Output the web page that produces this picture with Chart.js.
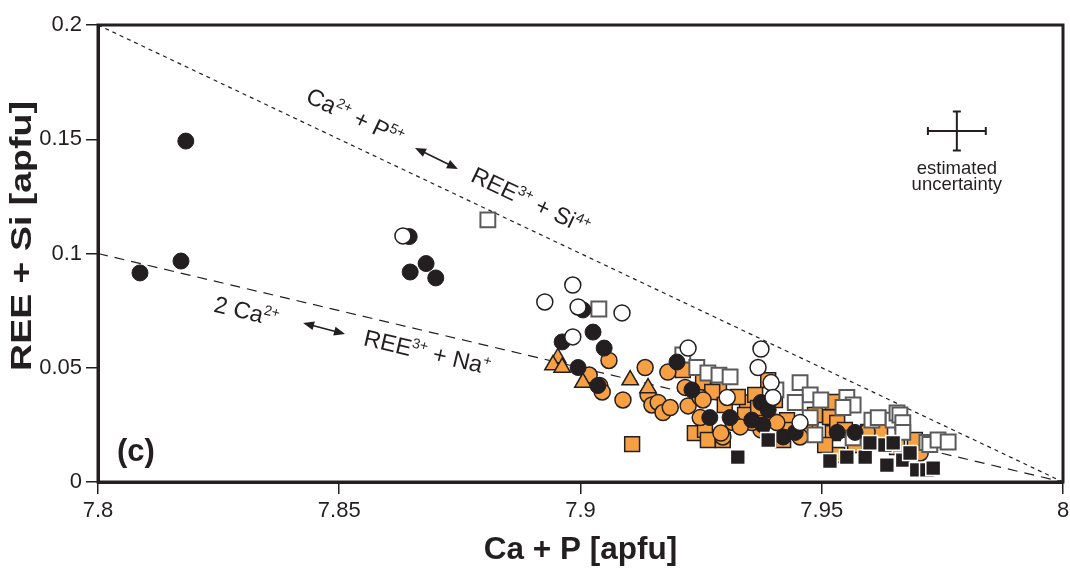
<!DOCTYPE html>
<html lang="en">
<head>
    <meta charset="utf-8" />
    <title>REE + Si vs Ca + P</title>
    <style>
        html, body { margin: 0; padding: 0; background: #fff; }
        #divChart { width: 1070px; height: 574px; }
    </style>
</head>
<body>
    <div id="divChart">
        <canvas id="chart" width="1070" height="574"></canvas>
    </div>
    <script src="https://cdn.jsdelivr.net/npm/chart.js"></script>
    <script>
        // ticks
        var xTicks = [7.8, 7.85, 7.9, 7.95, 8];
        var xTickLabels = ['7.8', '7.85', '7.9', '7.95', '8'];
        var yTicks = [0, 0.05, 0.1, 0.15, 0.2];
        var yTickLabels = ['0', '0.05', '0.1', '0.15', '0.2'];

        // substitution lines, [Ca + P, REE + Si]
        var lineSi = [[7.8, 0.2], [8, 0]];
        var lineNa = [[7.8, 0.1], [8, 0]];

        // estimated uncertainty: centre and half widths
        var errCentre = [7.978, 0.1536];
        var errHalf = [0.006, 0.0085];

        // analyses, [Ca + P, REE + Si]
        var blackCircles = [
            [7.8182, 0.1492], [7.8087, 0.0915], [7.8172, 0.0967], [7.8645, 0.1074], [7.8647, 0.0919],
            [7.8680, 0.0956], [7.8700, 0.0893], [7.9005, 0.0753], [7.9026, 0.0656], [7.8962, 0.0613],
            [7.9049, 0.0586], [7.8995, 0.0501], [7.9036, 0.0422], [7.9200, 0.0525], [7.9231, 0.0403],
            [7.9268, 0.0282], [7.9310, 0.0282], [7.9355, 0.0271], [7.9374, 0.0348], [7.9389, 0.0315],
            [7.9378, 0.0249], [7.9420, 0.0197], [7.9445, 0.0217], [7.9532, 0.0217], [7.9569, 0.0217]
        ];
        var openCircles = [
            [7.8632, 0.1077], [7.8984, 0.0862], [7.8926, 0.0788], [7.8995, 0.0766], [7.9086, 0.0740],
            [7.8984, 0.0635], [7.9223, 0.0586], [7.9374, 0.0582], [7.9368, 0.0501], [7.9395, 0.0435],
            [7.9399, 0.0370], [7.9304, 0.0370], [7.9455, 0.0260]
        ];
        var openSquares = [
            [7.8808, 0.1147], [7.9038, 0.0757], [7.9212, 0.0556], [7.9241, 0.0501], [7.9264, 0.0477],
            [7.9287, 0.0468], [7.9310, 0.0460], [7.9405, 0.0403], [7.9455, 0.0435], [7.9476, 0.0381],
            [7.9498, 0.0359], [7.9445, 0.0348], [7.9476, 0.0282], [7.9486, 0.0206], [7.9552, 0.0370],
            [7.9565, 0.0337], [7.9544, 0.0326], [7.9604, 0.0271], [7.9617, 0.0282], [7.9648, 0.0271],
            [7.9656, 0.0302], [7.9662, 0.0293], [7.9668, 0.0260], [7.9668, 0.0217], [7.9565, 0.0193],
            [7.9718, 0.0173], [7.9724, 0.0164], [7.9741, 0.0184], [7.9762, 0.0175]
        ];
        var blackSquares = [
            [7.9326, 0.0109], [7.9389, 0.0184], [7.9517, 0.0092], [7.9552, 0.0109], [7.9590, 0.0109],
            [7.9600, 0.0171], [7.9631, 0.0162], [7.9648, 0.0171], [7.9635, 0.0074], [7.9668, 0.0096],
            [7.9683, 0.0127], [7.9697, 0.0053], [7.9718, 0.0053], [7.9731, 0.0061]
        ];
        var orangeCircles = [
            [7.9059, 0.0532], [7.9018, 0.0468], [7.9040, 0.0422], [7.9045, 0.0394], [7.9088, 0.0359],
            [7.9134, 0.0501], [7.9181, 0.0481], [7.9140, 0.0381], [7.9148, 0.0337], [7.9161, 0.0348],
            [7.9171, 0.0304], [7.9186, 0.0326], [7.9223, 0.0333], [7.9217, 0.0414], [7.9248, 0.0370],
            [7.9248, 0.0282], [7.9254, 0.0359], [7.9316, 0.0260], [7.9374, 0.0228], [7.9407, 0.0260],
            [7.9295, 0.0197], [7.9355, 0.0260], [7.9331, 0.0241], [7.9455, 0.0197], [7.9594, 0.0219],
            [7.9704, 0.0127], [7.9291, 0.0214]
        ];
        var orangeTriangles = [
            [7.8953, 0.0543], [7.8943, 0.0512], [7.8962, 0.0501], [7.9005, 0.0435], [7.9103, 0.0446],
            [7.9140, 0.0411]
        ];
        var orangeSquares = [
            [7.9107, 0.0166], [7.9212, 0.0490], [7.9237, 0.0214], [7.9258, 0.0228], [7.9254, 0.0435],
            [7.9287, 0.0422], [7.9345, 0.0348], [7.9389, 0.0446], [7.9326, 0.0372], [7.9382, 0.0306],
            [7.9428, 0.0271], [7.9264, 0.0184], [7.9295, 0.0184], [7.9420, 0.0184], [7.9517, 0.0284],
            [7.9523, 0.0214], [7.9532, 0.0118], [7.9523, 0.0350], [7.9507, 0.0162], [7.9596, 0.0219],
            [7.9656, 0.0153], [7.9532, 0.0258], [7.9362, 0.0381], [7.9476, 0.0249], [7.9273, 0.0394],
            [7.9299, 0.0337], [7.9341, 0.0293], [7.9368, 0.0324], [7.9403, 0.0359], [7.9434, 0.0228],
            [7.9465, 0.0236], [7.9486, 0.0293], [7.9548, 0.0228], [7.9569, 0.0162], [7.9621, 0.0219],
            [7.9693, 0.0184]
        ];

        var INK = '#231f20';
        var ORANGE = '#f7a043';
        var FONT = '"Liberation Sans", Arial, Helvetica, sans-serif';

        function pts(arr) {
            return arr.map(function (p) { return { x: p[0], y: p[1] }; });
        }

        function marker(data, style, radius, fill, border, bw) {
            return {
                data: pts(data),
                pointStyle: style,
                pointRadius: radius,
                pointBackgroundColor: fill,
                pointBorderColor: border,
                pointBorderWidth: bw,
                showLine: false
            };
        }

        function refLine(data, dash) {
            return {
                data: pts(data),
                showLine: true,
                borderColor: INK,
                borderWidth: 1.2,
                borderDash: dash,
                pointRadius: 0,
                fill: false
            };
        }

        // text with superscripts, drawn along an angle
        function drawRich(ctx, parts, px, py, angle, size) {
            ctx.save();
            ctx.translate(px, py);
            ctx.rotate(angle);
            ctx.textAlign = 'left';
            ctx.textBaseline = 'alphabetic';
            ctx.fillStyle = INK;
            var cx = 0;
            parts.forEach(function (p) {
                var fs = p[1] ? size * 0.6 : size;
                ctx.font = fs + 'px ' + FONT;
                ctx.fillText(p[0], cx, p[1] ? -size * 0.38 : 0);
                cx += ctx.measureText(p[0]).width;
            });
            ctx.restore();
        }

        function arrowHead(ctx, x, y, ang) {
            var len = 11, half = 4.5;
            ctx.beginPath();
            ctx.moveTo(x, y);
            ctx.lineTo(x - len * Math.cos(ang) + half * Math.sin(ang), y - len * Math.sin(ang) - half * Math.cos(ang));
            ctx.lineTo(x - len * Math.cos(ang) - half * Math.sin(ang), y - len * Math.sin(ang) + half * Math.cos(ang));
            ctx.closePath();
            ctx.fill();
        }

        function doubleArrow(ctx, x1, y1, x2, y2) {
            var ang = Math.atan2(y2 - y1, x2 - x1);
            ctx.save();
            ctx.strokeStyle = INK;
            ctx.fillStyle = INK;
            ctx.lineWidth = 1.6;
            ctx.beginPath();
            ctx.moveTo(x1 + 6 * Math.cos(ang), y1 + 6 * Math.sin(ang));
            ctx.lineTo(x2 - 6 * Math.cos(ang), y2 - 6 * Math.sin(ang));
            ctx.stroke();
            arrowHead(ctx, x2, y2, ang);
            arrowHead(ctx, x1, y1, ang + Math.PI);
            ctx.restore();
        }

        var decorPlugin = {
            id: 'decor',
            afterDatasetsDraw: function (chart) {
                var ctx = chart.ctx;
                var xs = chart.scales.x, ys = chart.scales.y;
                function X(v) { return xs.getPixelForValue(v); }
                function Y(v) { return ys.getPixelForValue(v); }
                var a = chart.chartArea;

                // frame
                ctx.save();
                ctx.strokeStyle = INK;
                ctx.lineWidth = 3;
                ctx.strokeRect(a.left, a.top, a.right - a.left, a.bottom - a.top);

                // x tick labels
                ctx.fillStyle = INK;
                ctx.font = '22px ' + FONT;
                ctx.textAlign = 'center';
                ctx.textBaseline = 'middle';
                xTicks.forEach(function (v, i) {
                    ctx.fillText(xTickLabels[i], X(v), a.bottom + 29);
                });

                // y axis title
                ctx.save();
                ctx.translate(23, 236);
                ctx.rotate(-Math.PI / 2);
                ctx.scale(1.25, 1);
                ctx.font = 'bold 30px ' + FONT;
                ctx.fillText('REE + Si [apfu]', 0, 0);
                ctx.restore();
                ctx.restore();

                var angSi = Math.atan2(Y(lineSi[1][1]) - Y(lineSi[0][1]), X(lineSi[1][0]) - X(lineSi[0][0]));
                var angNa = Math.atan2(Y(lineNa[1][1]) - Y(lineNa[0][1]), X(lineNa[1][0]) - X(lineNa[0][0]));

                drawRich(ctx, [['Ca'], ['2+', 1], [' + P'], ['5+', 1]], X(7.8428), Y(0.1665), angSi, 23.5);
                doubleArrow(ctx, X(7.8657), Y(0.1462), X(7.8746), Y(0.1370));
                drawRich(ctx, [['REE'], ['3+', 1], [' + Si'], ['4+', 1]], X(7.8770), Y(0.1318), angSi, 23.5);

                drawRich(ctx, [['2 Ca'], ['2+', 1]], X(7.8238), Y(0.0746), angNa, 23.5);
                doubleArrow(ctx, X(7.8425), Y(0.0696), X(7.8512), Y(0.0648));
                drawRich(ctx, [['REE'], ['3+', 1], [' + Na'], ['+', 1]], X(7.8548), Y(0.0600), angNa, 23.5);

                // estimated uncertainty cross
                var cx = X(errCentre[0]), cy = Y(errCentre[1]);
                var x1 = X(errCentre[0] - errHalf[0]), x2 = X(errCentre[0] + errHalf[0]);
                var y1 = Y(errCentre[1] + errHalf[1]), y2 = Y(errCentre[1] - errHalf[1]);
                ctx.save();
                ctx.strokeStyle = INK;
                ctx.lineWidth = 2;
                ctx.beginPath();
                ctx.moveTo(x1, cy); ctx.lineTo(x2, cy);
                ctx.moveTo(cx, y1); ctx.lineTo(cx, y2);
                ctx.moveTo(x1, cy - 4); ctx.lineTo(x1, cy + 4);
                ctx.moveTo(x2, cy - 4); ctx.lineTo(x2, cy + 4);
                ctx.moveTo(cx - 4, y1); ctx.lineTo(cx + 4, y1);
                ctx.moveTo(cx - 4, y2); ctx.lineTo(cx + 4, y2);
                ctx.stroke();
                ctx.fillStyle = INK;
                ctx.textAlign = 'center';
                ctx.textBaseline = 'alphabetic';
                ctx.font = '18.5px ' + FONT;
                ctx.fillText('estimated', cx, y2 + 24);
                ctx.fillText('uncertainty', cx, y2 + 40);

                // panel letter
                ctx.font = 'bold 31px ' + FONT;
                ctx.textAlign = 'left';
                ctx.fillText('(c)', a.left + 19, a.bottom - 21);
                ctx.restore();
            }
        };

        var ctx = document.getElementById('chart').getContext('2d');
        var myChart = new Chart(ctx, {
            type: 'scatter',
            data: {
                datasets: [
                    marker(blackSquares, 'rect', 10.5, INK, '#ffffff', 1.5),
                    marker(openCircles, 'circle', 8, '#ffffff', INK, 1.5),
                    marker(blackCircles, 'circle', 8, INK, INK, 1),
                    marker(openSquares, 'rect', 10.5, '#ffffff', '#5a5a5a', 2),
                    marker(orangeTriangles, 'triangle', 9.5, ORANGE, INK, 1.5),
                    marker(orangeCircles, 'circle', 8, ORANGE, INK, 1.5),
                    marker(orangeSquares, 'rect', 10.5, ORANGE, INK, 1.5),
                    refLine(lineSi, [4, 4]),
                    refLine(lineNa, [10, 7])
                ]
            },
            options: {
                responsive: false,
                animation: false,
                devicePixelRatio: 1,
                layout: {
                    autoPadding: false,
                    padding: { top: 25, right: 7, left: 0, bottom: 0 }
                },
                plugins: {
                    legend: { display: false },
                    tooltip: { enabled: false }
                },
                scales: {
                    x: {
                        type: 'linear',
                        min: 7.8,
                        max: 8,
                        afterFit: function (scale) { scale.height = 92; },
                        afterBuildTicks: function (scale) {
                            scale.ticks = xTicks.map(function (v) { return { value: v }; });
                        },
                        ticks: { display: false },
                        grid: {
                            drawOnChartArea: false,
                            drawTicks: true,
                            tickLength: 12,
                            color: INK,
                            lineWidth: 1.5
                        },
                        border: { display: true, color: INK, width: 3 },
                        title: {
                            display: true,
                            text: 'Ca + P [apfu]',
                            color: INK,
                            font: { family: FONT, size: 31.5, weight: 'bold' },
                            padding: { top: 0, bottom: 5 }
                        }
                    },
                    y: {
                        type: 'linear',
                        min: 0,
                        max: 0.2,
                        afterFit: function (scale) { scale.width = 98; },
                        afterBuildTicks: function (scale) {
                            scale.ticks = yTicks.map(function (v) { return { value: v }; });
                        },
                        ticks: {
                            color: INK,
                            padding: 4,
                            autoSkip: false,
                            font: { family: FONT, size: 22 },
                            callback: function (v, i) { return yTickLabels[i]; }
                        },
                        grid: {
                            drawOnChartArea: false,
                            drawTicks: true,
                            tickLength: 12,
                            color: INK,
                            lineWidth: 1.5
                        },
                        border: { display: true, color: INK, width: 3 },
                        title: { display: false }
                    }
                }
            },
            plugins: [decorPlugin]
        });
    </script>
</body>
</html>
